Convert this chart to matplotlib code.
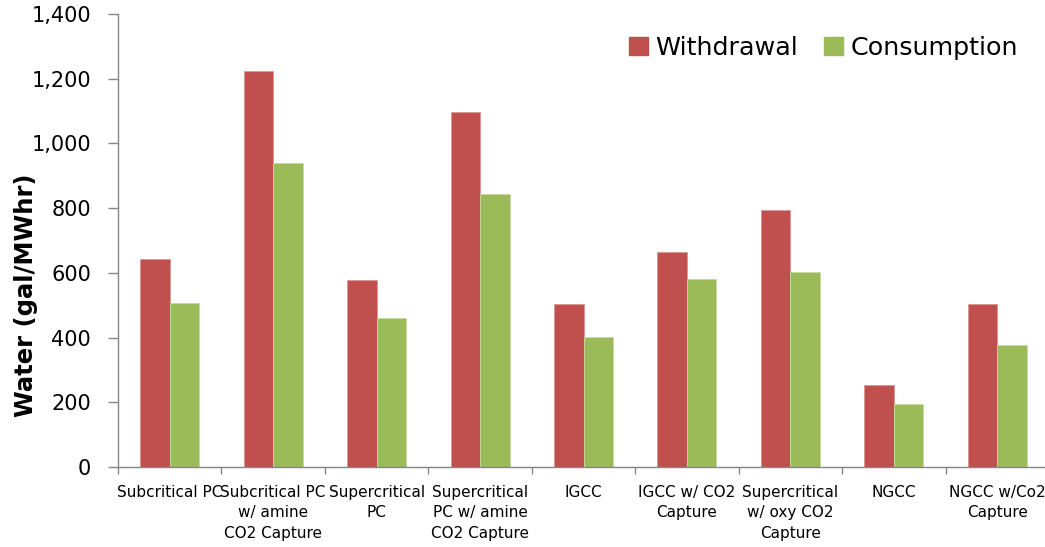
import matplotlib
matplotlib.use("Agg")
import matplotlib.pyplot as plt
from matplotlib.patches import Patch
from matplotlib.ticker import FuncFormatter, FixedLocator
import numpy as np

categories = [
    "Subcritical PC",
    "Subcritical PC\nw/ amine\nCO2 Capture",
    "Supercritical\nPC",
    "Supercritical\nPC w/ amine\nCO2 Capture",
    "IGCC",
    "IGCC w/ CO2\nCapture",
    "Supercritical\nw/ oxy CO2\nCapture",
    "NGCC",
    "NGCC w/Co2\nCapture",
]
withdrawal = [642, 1223, 578, 1098, 504, 663, 794, 252, 504]
consumption = [507, 938, 461, 844, 401, 582, 603, 196, 376]
yticks = [0, 200, 400, 600, 800, 1000, 1200, 1400]

red = "#C0504D"
green = "#9BBB59"
axis_gray = "#868686"

fig = plt.figure(figsize=(10.45, 5.47), dpi=100)
W, H = 1045, 547
x0, x1, ytop, ybot = 118, 1049, 14, 467
ax = fig.add_axes([x0 / W, (H - ybot) / H, (x1 - x0) / W, (ybot - ytop) / H])

x = np.arange(len(categories))
bw = 0.285
ax.bar(x - bw / 2, withdrawal, bw, color=red, edgecolor="#D99795", linewidth=0.6)
ax.bar(x + bw / 2, consumption, bw, color=green, edgecolor="#C6D9A4", linewidth=0.6)

ax.set_xlim(-0.5, len(categories) - 0.5)
ax.set_ylim(0, 1400)
ax.set_yticks(yticks)
ax.yaxis.set_major_formatter(FuncFormatter(lambda v, p: f"{int(v):,}"))

for s in ["top", "right"]:
    ax.spines[s].set_visible(False)
for s in ["left", "bottom"]:
    ax.spines[s].set_color(axis_gray)
    ax.spines[s].set_linewidth(1.0)

ax.tick_params(axis="y", direction="out", length=7, width=1, color=axis_gray,
               labelsize=15, pad=12.5, labelcolor="black")
ax.set_xticks(x)
ax.set_xticklabels(categories, fontsize=11, linespacing=1.45)
ax.tick_params(axis="x", which="major", length=0, pad=13)
ax.xaxis.set_minor_locator(FixedLocator(np.arange(-0.5, len(categories), 1.0)))
ax.tick_params(axis="x", which="minor", direction="out", length=5, width=1, color=axis_gray)

ax.set_ylabel("Water (gal/MWhr)", fontsize=17.5, fontweight="bold")
ax.yaxis.set_label_coords(-0.086, 0.38)

handles = [Patch(facecolor=red, edgecolor=red), Patch(facecolor=green, edgecolor=green)]
ax.legend(handles, ["Withdrawal", "Consumption"], loc="center right", ncol=2,
          frameon=False, fontsize=18.3, handlelength=0.75, handleheight=0.75,
          handletextpad=0.3, columnspacing=1.0, borderpad=0.4,
          bbox_to_anchor=(0.991, 0.925))

fig.savefig("out.png", dpi=100)
